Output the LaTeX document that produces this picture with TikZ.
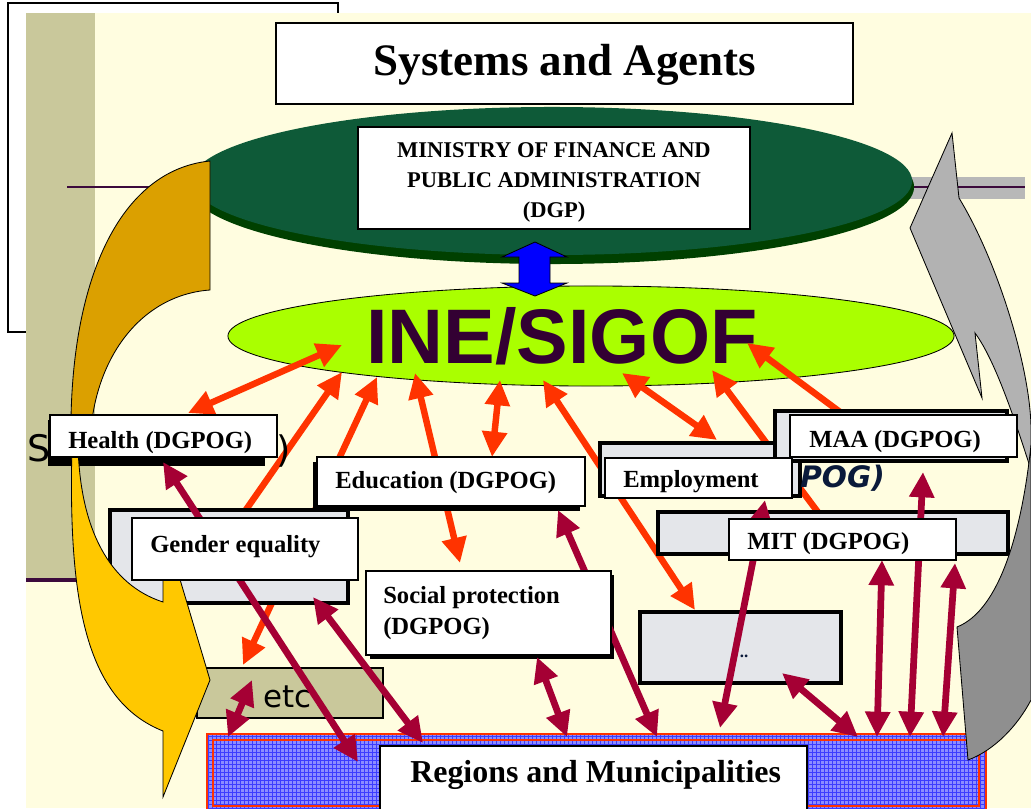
\documentclass[tikz,border=0pt]{standalone}
\usepackage{fontspec}
\setmainfont{Liberation Serif}
\newfontfamily\inefont{Liberation Sans}
\newfontfamily\fragfont{DejaVu Sans}
\usetikzlibrary{arrows.meta}
\usetikzlibrary{fit}
\usetikzlibrary{positioning}

\definecolor{slidebg}{HTML}{FFFDE0}
\definecolor{khaki}{HTML}{C9C89B}
\definecolor{darkline}{HTML}{3C0A3C}
\definecolor{bandgray}{HTML}{B8B8B8}
\definecolor{mofgreen}{HTML}{0E5A38}
\definecolor{mofrim}{HTML}{004000}
\definecolor{lime}{HTML}{AAFF00}
\definecolor{inepurple}{HTML}{330033}
\definecolor{goldback}{HTML}{DBA000}
\definecolor{goldfront}{HTML}{FFC800}
\definecolor{graylight}{HTML}{B2B2B2}
\definecolor{graydark}{HTML}{8F8F8F}
\definecolor{orered}{HTML}{FF3300}
\definecolor{crimson}{HTML}{A50034}
\definecolor{marblegray}{HTML}{E4E6EA}
\definecolor{gridblue}{HTML}{8C8CFF}
\definecolor{gridline}{HTML}{3C3CFF}
\definecolor{regred}{HTML}{FF3300}
\definecolor{fragnavy}{HTML}{0A1A3A}

\tikzset{
  wbox/.style={draw=black, fill=white, line width=0.8pt, inner sep=0pt},
  marble/.style={draw=black, fill=marblegray, line width=2.5pt, inner sep=0pt},
  shadowbox/.style={fill=black, inner sep=0pt},
  lbl/.style={font={\fontsize{17.5}{22}\selectfont\bfseries}, inner sep=0pt},
  frag/.style={font={\fragfont\fontsize{26}{30}\selectfont}, text=fragnavy, inner sep=0pt},
  bigarrow/.style={draw=black, line width=0.6pt},
  tip/.tip={Triangle[length=18pt,width=17pt]},
  oarr/.style={draw=orered, line width=4.6pt, -tip},
  obi/.style={draw=orered, line width=4.6pt, tip-tip},
  cbi/.style={draw=crimson, line width=4.8pt, tip-tip}
}

\begin{document}
\begin{tikzpicture}[x=0.025cm,y=-0.025cm]
\useasboundingbox (0,0) rectangle (1031,808);
\fill[white] (0,0) rectangle (1031,808);
\draw[black,line width=0.8pt] (8,3) rectangle (338,332);
\fill[slidebg] (26,13) rectangle (1031,808);
\fill[khaki] (26,13) rectangle (95,579);
\draw[darkline,line width=3pt] (26,580) -- (112,580);
\draw[darkline,line width=1.5pt] (67,187) -- (150,187);
\fill[bandgray] (900,177) rectangle (1025,199);
\draw[darkline,line width=1.5pt] (905,187) -- (1025,187);

\fill[mofrim] (552,187) ellipse [x radius=9.05cm, y radius=1.925cm];
\fill[mofgreen] (552,181) ellipse [x radius=9.0cm, y radius=1.85cm];
\node[wbox, fit={(358,127) (750,229)}] (mofbox) {};
\node[anchor=north, align=center, inner sep=0pt, font={\fontsize{16}{21.3}\selectfont\bfseries}] (moftxt) at (554,142) {MINISTRY OF FINANCE AND\\PUBLIC ADMINISTRATION\\(DGP)};
\node[wbox, line width=1pt, fit={(276,23) (853,104)}] (titlebox) {};
\node[anchor=base, inner sep=0pt, font={\fontsize{32}{36}\selectfont\bfseries}] (titletxt) at (565,76) {Systems and Agents};

\draw[fill=lime, draw=black, line width=0.6pt] (591,336) ellipse [x radius=9.075cm, y radius=1.25cm];
\draw[fill=blue, draw=black, line width=0.6pt] (535,242) -- (567,257) -- (550,257) -- (550,283) -- (567,283) -- (535,296) -- (502,283) -- (519,283) -- (519,257) -- (502,257) -- cycle;
\node[anchor=base, inner sep=0pt, text=inepurple, font={\inefont\fontsize{55}{60}\selectfont\bfseries}] (inetxt) at (562,363) {INE/SIGOF};

\coordinate (o1a) at (188,413);
\coordinate (o1b) at (342,345);
\coordinate (o2a) at (243,514);
\coordinate (o2b) at (342,372);
\coordinate (o3a) at (377,377);
\coordinate (o3b) at (243,665);
\coordinate (o4a) at (415,373);
\coordinate (o4b) at (460,563);
\coordinate (o5a) at (500,380);
\coordinate (o5b) at (492,457);
\coordinate (o6a) at (543,380);
\coordinate (o6b) at (695,610);
\coordinate (o7a) at (622,373);
\coordinate (o7b) at (717,440);
\coordinate (o8a) at (820,515);
\coordinate (o8b) at (712,370);
\coordinate (o9a) at (840,412);
\coordinate (o9b) at (747,343);
\draw[obi] (o1a) -- (o1b);
\draw[oarr] (o2a) -- (o2b);
\draw[obi] (o3a) -- (o3b);
\draw[obi] (o4a) -- (o4b);
\draw[obi] (o5a) -- (o5b);
\draw[obi] (o6a) -- (o6b);
\draw[obi] (o7a) -- (o7b);
\draw[oarr] (o8a) -- (o8b);
\draw[oarr] (o9a) -- (o9b);

\node[shadowbox, fit={(48,420) (265,466)}] (healthbg) {};
\node[shadowbox, fit={(313,462) (580,511)}] (educbg) {};
\node[shadowbox, fit={(370,575) (614,659)}] (socialbg) {};
\node[marble, fit={(110,510) (348,603)}] (genderbg) {};
\node[marble, fit={(600,443) (800,496)}] (emplbg) {};
\node[marble, fit={(775,411) (1007,461)}] (maabg) {};
\node[marble, fit={(658,512) (1008,554)}] (mitbg) {};
\node[marble, fit={(640,612) (841,683)}] (dotsbox) {};
\node[inner sep=0pt, font={\bfseries\fontsize{12}{12}\selectfont}, text=fragnavy] (dotstxt) at (744,656) {..};
\node[draw=black, fill=khaki, line width=1.2pt, inner sep=0pt, fit={(197,668) (383,718)}] (etcbox) {};
\node[anchor=base west, inner sep=0pt, text=black, font={\fragfont\fontsize{22}{24}\selectfont}] (etctxt) at (263,707) {etc};

\node[frag, anchor=base west, text=black] (fragS) at (27,461) {S};
\node[frag, anchor=base west, text=black] (fragpar) at (276,462) {)};
\node[frag, anchor=base west, font={\fragfont\fontsize{21}{24}\selectfont\bfseries\itshape}] (fragpog) at (800,487) {POG)};

\fill[gridblue] (207,734) rectangle (986,810);
\draw[gridline, line width=0.3pt, step=0.1cm] (207,734) grid (986,810);
\draw[regred, line width=1.8pt] (207,734) rectangle (986,812);
\draw[regred, line width=1.5pt] (213,740) rectangle (979,806);

\draw[bigarrow, fill=goldback] (210,161) -- (210,290) .. controls (140,295) and (92,360) .. (90,445) -- (71,445) .. controls (68,280) and (120,170) .. (210,161) -- cycle;
\draw[bigarrow, fill=goldfront] (72,445) .. controls (68,600) and (85,700) .. (163,731) -- (163,797) -- (210,680) -- (176,566) -- (163,575) -- (163,602) .. controls (110,585) and (80,530) .. (78,445) -- cycle;
\draw[bigarrow, fill=graylight] (952,133) -- (959,198) .. controls (998,262) and (1031,370) .. (1031,430) -- (1031,470) .. controls (1015,420) and (995,360) .. (975,333) -- (982,398) -- (910,228) -- cycle;
\draw[bigarrow, fill=graydark] (1031,445) .. controls (1022,530) and (1000,610) .. (957,627) -- (968,760) .. controls (995,750) and (1018,725) .. (1031,700) -- cycle;

\coordinate (c1a) at (163,462);
\coordinate (c1b) at (358,762);
\coordinate (c2a) at (313,597);
\coordinate (c2b) at (423,743);
\coordinate (c3a) at (252,680);
\coordinate (c3b) at (228,737);
\coordinate (c4a) at (558,510);
\coordinate (c4b) at (657,737);
\coordinate (c5a) at (537,657);
\coordinate (c5b) at (567,737);
\coordinate (c6a) at (765,500);
\coordinate (c6b) at (720,728);
\coordinate (c7a) at (782,673);
\coordinate (c7b) at (858,737);
\coordinate (c8a) at (877,737);
\coordinate (c8b) at (882,560);
\coordinate (c9a) at (910,737);
\coordinate (c9b) at (923,472);
\coordinate (c10a) at (943,737);
\coordinate (c10b) at (955,563);
\draw[cbi] (c1a) -- (c1b);
\draw[cbi] (c2a) -- (c2b);
\draw[cbi] (c3a) -- (c3b);
\draw[cbi] (c4a) -- (c4b);
\draw[cbi] (c5a) -- (c5b);
\draw[cbi] (c6a) -- (c6b);
\draw[cbi] (c7a) -- (c7b);
\draw[cbi] (c8a) -- (c8b);
\draw[cbi] (c9a) -- (c9b);
\draw[cbi] (c10a) -- (c10b);

\node[wbox, fit={(50,415) (277,457)}] (health) {};
\node[lbl, anchor=base west] (healthtxt) at (68,448) {Health (DGPOG)};
\node[wbox, fit={(317,457) (585,506)}] (educ) {};
\node[lbl, anchor=base west] (eductxt) at (335,488) {Education (DGPOG)};
\node[wbox, fit={(132,518) (358,580)}] (gender) {};
\node[lbl, anchor=base west] (gendertxt) at (150,552) {Gender equality};
\node[wbox, fit={(366,571) (611,655)}] (social) {};
\node[lbl, anchor=north west, align=left] (socialtxt) at (383,586) {Social protection\\(DGPOG)};
\node[wbox, fit={(605,458) (792,498)}] (empl) {};
\node[lbl, anchor=base west] (empltxt) at (623,487) {Employment};
\node[wbox, fit={(790,415) (1017,457)}] (maa) {};
\node[lbl, anchor=base west] (maatxt) at (809,447) {MAA (DGPOG)};
\node[wbox, fit={(729,519) (956,560)}] (mit) {};
\node[lbl, anchor=base west] (mittxt) at (747,549) {MIT (DGPOG)};
\node[wbox, fit={(380,746) (807,812)}] (regions) {};
\node[anchor=base west, inner sep=0pt, font={\fontsize{22.7}{26}\selectfont\bfseries}] (regionstxt) at (410,782) {Regions and Municipalities};
\end{tikzpicture}
\end{document}
